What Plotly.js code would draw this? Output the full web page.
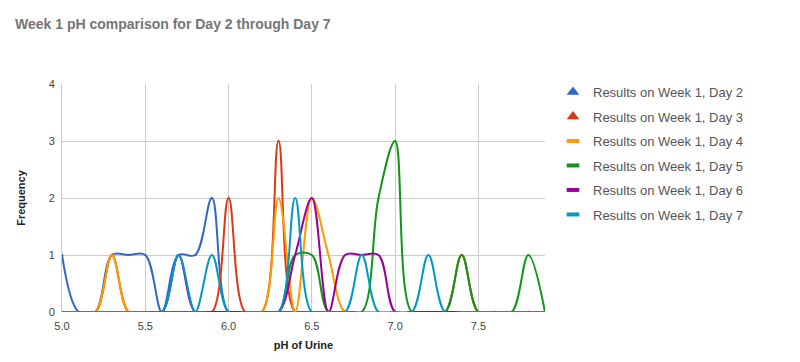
<!DOCTYPE html>
<html><head><meta charset="utf-8">
<script src="https://cdn.plot.ly/plotly-3.0.1.min.js"></script>
<style>body{margin:0;background:#fff}#c{width:800px;height:362px}</style>
</head><body><div id="c"></div>
<script>
const phValues = [5.0,5.1,5.2,5.3,5.4,5.5,5.6,5.7,5.8,5.9,6.0,6.1,6.2,6.3,6.4,6.5,6.6,6.7,6.8,6.9,7.0,7.1,7.2,7.3,7.4,7.5,7.6,7.7,7.8,7.9];
const day2 = [1,0,0,1,1,1,0,1,1,2,0,0,0,0,0,0,0,0,0,0,0,0,0,0,0,0,0,0,0,0];
const day3 = [0,0,0,1,0,0,0,0,0,0,2,0,0,3,0,0,0,0,0,0,0,0,0,0,1,0,0,0,0,0];
const day4 = [0,0,0,1,0,0,0,0,0,0,0,0,0,2,0,2,1,0,0,0,0,0,0,0,0,0,0,0,0,0];
const day5 = [0,0,0,0,0,0,0,0,0,0,0,0,0,0,1,1,0,0,0,2,3,0,0,0,1,0,0,0,1,0];
const day6 = [0,0,0,0,0,0,0,1,0,0,0,0,0,0,1,2,0,1,1,1,0,0,0,0,0,0,0,0,0,0];
const day7 = [0,0,0,0,0,0,0,1,0,1,0,0,0,0,2,0,0,0,1,0,0,0,1,0,0,0,0,0,0,0];
const seriesNames = ["Results on Week 1, Day 2","Results on Week 1, Day 3","Results on Week 1, Day 4","Results on Week 1, Day 5","Results on Week 1, Day 6","Results on Week 1, Day 7"];
const colors = ["#3366cc","#dc3912","#ff9900","#109618","#990099","#0099c6"];
const xTickVals = [5.0,5.5,6.0,6.5,7.0,7.5];
const xTickText = ["5.0","5.5","6.0","6.5","7.0","7.5"];

const allData = [day2,day3,day4,day5,day6,day7];
const traces = [];
allData.forEach((ys,i)=>{
  const tri = i < 2;
  traces.push({
    x: phValues, y: ys, type:'scatter', mode: tri ? 'lines+markers' : 'lines',
    name: seriesNames[i],
    line:{color:colors[i], width:2, shape:'spline', smoothing:1},
    marker:{symbol:'triangle-up', size: 3, color:colors[i]},
    showlegend:false, legendgroup:'g'+i
  });
});
allData.forEach((ys,i)=>{
  const tri = i < 2;
  traces.push({
    x:[null], y:[null], type:'scatter', mode:'markers', name:seriesNames[i],
    marker: tri ? {symbol:'triangle-up', size:11, color:colors[i]}
                : {symbol:'line-ew', size:9, color:colors[i], line:{color:colors[i], width:4}},
    legendgroup:'g'+i, showlegend:true
  });
});

const layout = {
  width:800, height:362,
  margin:{l:62, r:255, t:84, b:50},
  paper_bgcolor:'#fff', plot_bgcolor:'#fff',
  font:{family:'Arial, "Liberation Sans", sans-serif', size:11, color:'#444'},
  title:{text:'<b>Week 1 pH comparison for Day 2 through Day 7</b>', x:15/800, xanchor:'left', y:1-24/362, yanchor:'middle', font:{size:14, color:'#757575'}},
  xaxis:{range:[5.0,7.9], tickvals:xTickVals, ticktext:xTickText, showgrid:true, gridcolor:'#cccccc', zeroline:false, showline:false,
    ticks:'outside', ticklen:4, tickcolor:'rgba(0,0,0,0)', tickfont:{size:11,color:'#444'},
    title:{text:'<b>pH of Urine</b>', font:{size:11,color:'#222'}, standoff:10}},
  yaxis:{range:[0,4], dtick:1, showgrid:true, gridcolor:'#cccccc', zeroline:false, showline:true, linecolor:'#cccccc',
    ticks:'outside', ticklen:4, tickcolor:'rgba(0,0,0,0)', tickfont:{size:11,color:'#444'},
    title:{text:'<b>Frequency</b>', font:{size:11,color:'#222'}, standoff:20}},
  legend:{x:(553-62)/483, xanchor:'left', y:1+7/228, yanchor:'top', font:{size:13,color:'#555'}, tracegroupgap:4.6, traceorder:'grouped'},
  showlegend:true
};
Plotly.newPlot('c', traces, layout, {displayModeBar:false, staticPlot:true});
</script></body></html>
